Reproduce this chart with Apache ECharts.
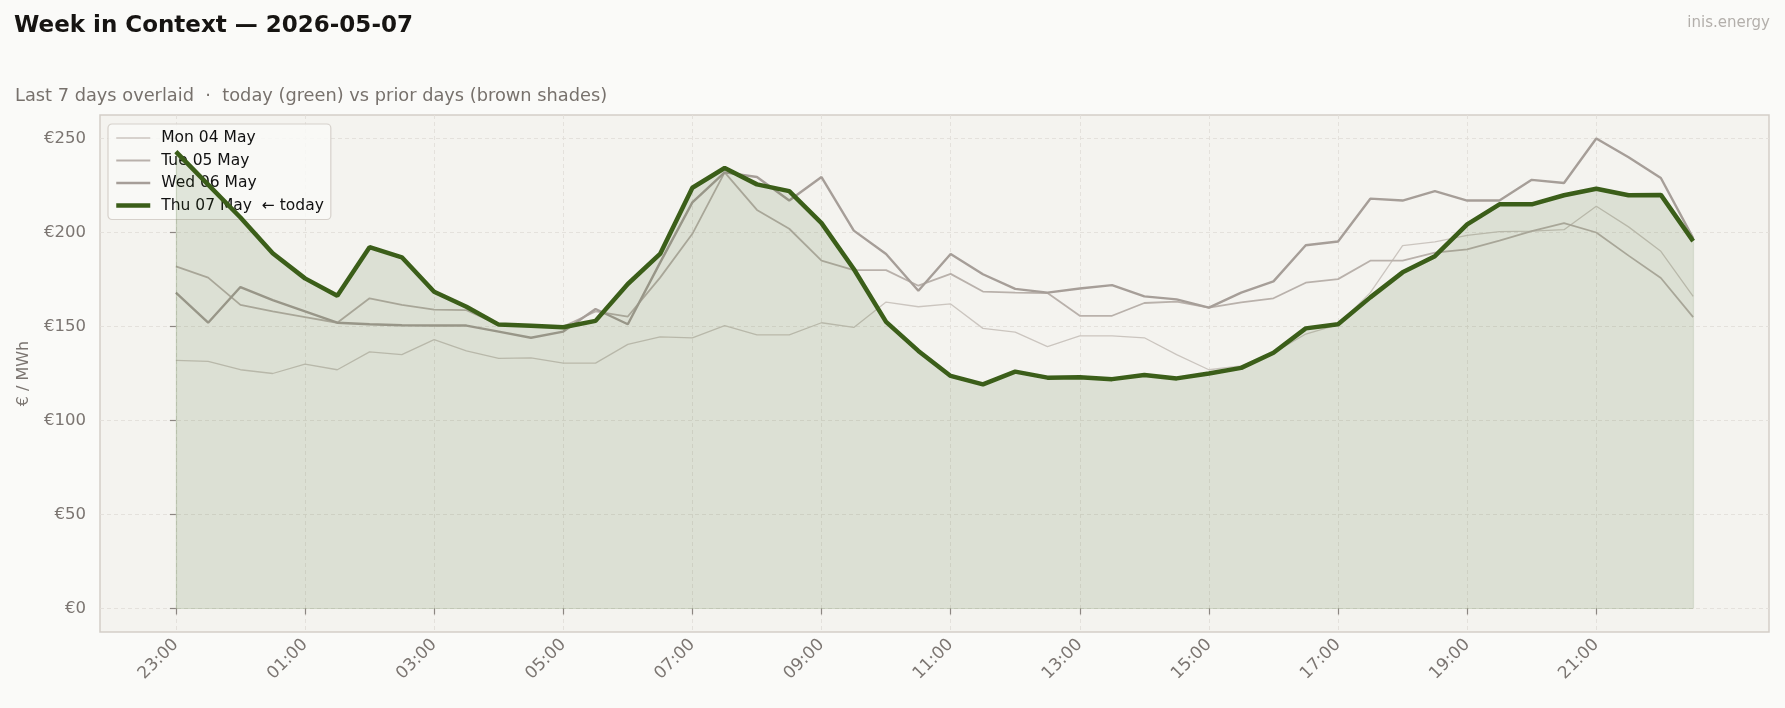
<!DOCTYPE html>
<html>
<head>
<meta charset="utf-8">
<title>Week in Context</title>
<script src="https://cdn.jsdelivr.net/npm/echarts@6/dist/echarts.min.js"></script>
<style>
  html, body { margin: 0; padding: 0; background: #fafaf8; }
  #chart { width: 1785px; height: 708px; }
</style>
</head>
<body>
<div id="chart"></div>
<script>
  // half-hour slots, 23:00 of the previous evening to 22:30
  var times = ['23:00', '23:30', '00:00', '00:30', '01:00', '01:30', '02:00', '02:30',
    '03:00', '03:30', '04:00', '04:30', '05:00', '05:30', '06:00', '06:30',
    '07:00', '07:30', '08:00', '08:30', '09:00', '09:30', '10:00', '10:30',
    '11:00', '11:30', '12:00', '12:30', '13:00', '13:30', '14:00', '14:30',
    '15:00', '15:30', '16:00', '16:30', '17:00', '17:30', '18:00', '18:30',
    '19:00', '19:30', '20:00', '20:30', '21:00', '21:30', '22:00', '22:30'];

  var dayNames = ['Mon 04 May', 'Tue 05 May', 'Wed 06 May', 'Thu 07 May  \u2190 today'];

  var mon = [132, 131.5, 127, 125, 130, 127, 136.5, 135, 143, 137, 133, 133.3,
    130.5, 130.5, 140.5, 144.5, 144, 150.5, 145.5, 145.5, 152, 149.5, 163, 160.5,
    162, 149, 147, 139.3, 145, 145, 144, 135, 127, 129, 136, 146,
    151, 168, 193, 195, 198.5, 200.5, 200.7, 201.5, 214, 203, 190, 166];

  var tue = [182, 176, 161.5, 158, 155, 152, 165, 161.5, 159, 158.7, 151, 150.5,
    150, 158, 155.3, 176, 199.3, 232, 212, 202, 185, 180, 180, 171.7,
    178, 168.6, 168, 167.8, 155.7, 155.7, 162.5, 163.2, 160, 162.8, 165, 173.3,
    175.2, 185, 185, 189.3, 191, 195.7, 200.7, 205, 200, 187.7, 175.8, 155];

  var wed = [168, 152, 171, 164, 158, 152, 151.2, 150.7, 150.5, 150.5, 147.3, 144,
    147.3, 159.3, 151.2, 184, 216, 232, 229.5, 217, 229.5, 201, 188.6, 169,
    188.6, 177.8, 170, 168, 170.2, 172, 166, 164.4, 160, 168, 174, 193.2,
    195.2, 218, 217, 222, 217, 217, 228, 226.3, 250, 240, 229, 197];

  var thu = [243, 225.5, 208, 189, 175.6, 166.4, 192.2, 186.8, 168.5, 160.5, 151, 150.4,
    149.6, 153, 172.6, 188.6, 223.8, 234.3, 225.6, 222, 205, 180.6, 152.5, 137,
    123.7, 119.2, 126, 122.8, 123, 122, 124.2, 122.4, 125, 128, 136, 149,
    151.2, 165.5, 178.8, 187.4, 204.3, 215, 215, 219.8, 223.3, 219.8, 220, 195.4];

  var xTickSlots = [0, 4, 8, 12, 16, 20, 24, 28, 32, 36, 40, 44];
  var yTicks = [0, 50, 100, 150, 200, 250];

  var FONT = 'DejaVu Sans';
  var colors = ['#cbc5bf', '#b9b1ab', '#a69e98', '#3b5e19'];
  var widths = [1.3, 1.8, 2.4, 4.5];

  function pairs(arr) {
    return arr.map(function (v, i) { return [i, v]; });
  }

  // outline of today's shaded area (left, right and bottom edges)
  var last = thu.length - 1;
  var fillEdges = [
    [{ coord: [0, 0] }, { coord: [0, thu[0]] }],
    [{ coord: [last, 0] }, { coord: [last, thu[last]] }],
    [{ coord: [0, 0] }, { coord: [last, 0] }]
  ];

  var chart = echarts.init(document.getElementById('chart'));
  chart.setOption({
    backgroundColor: '#fafaf8',
    animation: false,
    textStyle: { fontFamily: FONT },
    title: [
      {
        text: 'Week in Context \u2014 2026-05-07',
        left: 14, top: 15, padding: 0,
        textStyle: { fontFamily: FONT, fontSize: 23, fontWeight: 'bold', color: '#161412' }
      },
      {
        text: 'Last 7 days overlaid  \u00b7  today (green) vs prior days (brown shades)',
        left: 15, top: 87, padding: 0,
        textStyle: { fontFamily: FONT, fontSize: 17.8, fontWeight: 'normal', color: '#77716c' }
      },
      {
        text: 'inis.energy',
        right: 15, top: 16, padding: 0,
        textStyle: { fontFamily: FONT, fontSize: 15, fontWeight: 'normal', color: '#b3afab' }
      }
    ],
    legend: {
      left: 108, top: 124,
      orient: 'vertical',
      data: dayNames.map(function (n, i) {
        return { name: n, lineStyle: { width: widths[i], color: colors[i] } };
      }),
      itemWidth: 34, itemHeight: 14, itemGap: 6.5,
      itemStyle: { opacity: 0 },
      padding: [6, 7, 6, 6],
      backgroundColor: 'rgba(250,250,248,0.82)',
      borderColor: '#d6d1cb', borderWidth: 1.2, borderRadius: 4,
      textStyle: { fontFamily: FONT, fontSize: 15.5, color: '#111', lineHeight: 16, padding: [0, 0, 0, 6] }
    },
    grid: {
      left: 100, right: 16, top: 115, bottom: 76,
      show: true,
      backgroundColor: '#f4f3ef',
      borderColor: '#d3cec8', borderWidth: 1.5
    },
    xAxis: {
      type: 'value',
      min: -2.35, max: 49.35,
      axisLine: { show: false },
      axisTick: { show: true, length: 6, customValues: xTickSlots, lineStyle: { color: '#8c8682', width: 1.2 } },
      axisLabel: {
        customValues: xTickSlots,
        rotate: 45, margin: 10,
        fontFamily: FONT, fontSize: 17, color: '#7b7571',
        formatter: function (v) { return times[v]; }
      },
      splitLine: { show: true, lineStyle: { color: '#e2dfd9', type: [4, 3], width: 0.9 } }
    },
    yAxis: {
      type: 'value',
      min: -12.5, max: 262.5,
      name: '\u20ac / MWh',
      nameLocation: 'middle',
      nameGap: 68,
      nameTextStyle: { fontFamily: FONT, fontSize: 16, color: '#7b7571' },
      axisLine: { show: false },
      axisTick: { show: true, length: 6, customValues: yTicks, lineStyle: { color: '#8c8682', width: 1.2 } },
      axisLabel: {
        customValues: yTicks,
        margin: 14,
        fontFamily: FONT, fontSize: 16.5, color: '#7b7571',
        formatter: function (v) { return '\u20ac' + v; }
      },
      splitLine: { show: true, lineStyle: { color: '#e2dfd9', type: [4, 3], width: 0.9 } }
    },
    series: [
      {
        name: dayNames[0], type: 'line', data: pairs(mon),
        symbol: 'none', z: 2,
        lineStyle: { color: colors[0], width: widths[0] },
        itemStyle: { color: colors[0] }
      },
      {
        name: dayNames[1], type: 'line', data: pairs(tue),
        symbol: 'none', z: 3,
        lineStyle: { color: colors[1], width: widths[1] },
        itemStyle: { color: colors[1] }
      },
      {
        name: dayNames[2], type: 'line', data: pairs(wed),
        symbol: 'none', z: 4,
        lineStyle: { color: colors[2], width: widths[2] },
        itemStyle: { color: colors[2] }
      },
      {
        name: dayNames[3], type: 'line', data: pairs(thu),
        symbol: 'none', z: 5,
        lineStyle: { color: colors[3], width: widths[3] },
        itemStyle: { color: colors[3] },
        areaStyle: { color: 'rgba(59,94,25,0.125)', opacity: 1, origin: 0 },
        markLine: {
          silent: true,
          symbol: 'none',
          label: { show: false },
          lineStyle: { color: 'rgba(59,94,25,0.14)', width: 1.2, type: 'solid' },
          data: fillEdges
        }
      }
    ]
  });
</script>
</body>
</html>
